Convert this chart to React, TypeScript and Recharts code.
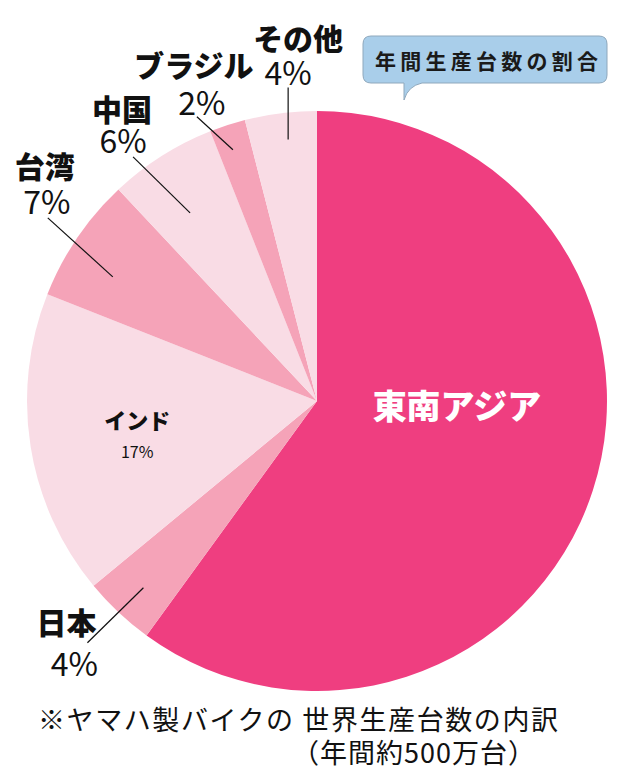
import React from "react";
import { PieChart, Pie, Cell } from "recharts";

const regions = ["東南アジア", "日本", "インド", "台湾", "中国", "ブラジル", "その他"];
const shares = [60, 4, 17, 7, 6, 2, 4];
const percentLabels = ["60%", "4%", "17%", "7%", "6%", "2%", "4%"];
const sliceColors = ["#EF3E80", "#F5A3B8", "#F9DCE5", "#F5A3B8", "#F9DCE5", "#F5A3B8", "#F9DCE5"];

const data = regions.map((name, i) => ({ name, value: shares[i], pct: percentLabels[i] }));

const JP = "'Noto Sans CJK JP', 'Noto Sans', sans-serif";
const NUM = "'Liberation Sans Narrow', 'Noto Sans CJK JP', sans-serif";
const RAD = Math.PI / 180;

type Layout = {
  kind: "outside" | "inside" | "main";
  da: number;
  r: number;
  ex?: number;
  ey?: number;
  nx: number;
  ny: number;
  px?: number;
  py?: number;
};
const labelLayout: Layout[] = [
  { kind: "main", da: 16.4, r: 140, nx: 0, ny: 0 },
  { kind: "outside", da: 0.3, r: 255, ex: -56, ey: 55, nx: -21, ny: -22, px: -13, py: 19 },
  { kind: "inside", da: 0, r: 182, nx: 0, ny: -10, px: 0, py: 22 },
  { kind: "outside", da: 2.9, r: 239, ex: -65, ey: -59, nx: -3, ny: -53, px: -1, py: -18 },
  { kind: "outside", da: 1.6, r: 227, ex: -57, ey: -56, nx: -11, ny: -49, px: -10, py: -18 },
  { kind: "outside", da: 0.5, r: 265, ex: -36, ey: -33, nx: -3, ny: -53, px: 5, py: -16 },
  { kind: "outside", da: -0.9, r: 263, ex: 0, ey: -52, nx: 10, ny: -51, px: 0, py: -17 },
];

const renderLabel = (props: any) => {
  const { cx, cy, midAngle, index } = props;
  const L = labelLayout[index];
  const d = data[index];
  const a = (midAngle + L.da) * RAD;
  const sx = cx + L.r * Math.cos(a);
  const sy = cy - L.r * Math.sin(a);
  if (L.kind === "main") {
    return (
      <text x={sx + L.nx} y={sy + L.ny} textAnchor="middle" dominantBaseline="central"
        fill="#fff" fontFamily={JP} fontWeight={900} fontSize={34}>
        {d.name}
      </text>
    );
  }
  if (L.kind === "inside") {
    return (
      <g>
        <text x={sx + L.nx} y={sy + L.ny} textAnchor="middle" dominantBaseline="central"
          fill="#111" fontFamily={JP} fontWeight={900} fontSize={22}>
          {d.name}
        </text>
        <text x={sx + (L.px || 0)} y={sy + (L.py || 0)} textAnchor="middle" dominantBaseline="central"
          fill="#111" fontFamily={JP} fontWeight={400} fontSize={16}>
          {d.pct}
        </text>
      </g>
    );
  }
  const ex = sx + (L.ex || 0);
  const ey = sy + (L.ey || 0);
  return (
    <g>
      <line x1={sx} y1={sy} x2={ex} y2={ey} stroke="#111" strokeWidth={1.2} />
      <text x={ex + L.nx} y={ey + L.ny} textAnchor="middle" dominantBaseline="central"
        fill="#111" fontFamily={JP} fontWeight={900} fontSize={30}>
        {d.name}
      </text>
      <text x={ex + (L.px || 0)} y={ey + (L.py || 0)} textAnchor="middle" dominantBaseline="central"
        fill="#111" fontFamily={NUM} fontWeight={400} fontSize={32}>
        {d.pct}
      </text>
    </g>
  );
};

export default function App() {
  return (
    <div style={{ position: "absolute", left: 0, top: 0, width: 633, height: 768, background: "#fff" }}>
      <PieChart width={633} height={768} margin={{ top: 0, right: 0, bottom: 0, left: 0 }}>
        <Pie
          data={data}
          dataKey="value"
          nameKey="name"
          cx={317}
          cy={401}
          outerRadius={290}
          startAngle={90}
          endAngle={-270}
          stroke="none"
          isAnimationActive={false}
          label={renderLabel}
          labelLine={false}
        >
          {data.map((d, i) => (
            <Cell key={d.name} fill={sliceColors[i]} />
          ))}
        </Pie>
      </PieChart>
      <svg width={633} height={768} style={{ position: "absolute", left: 0, top: 0, pointerEvents: "none" }}>
        <path
          d="M371,36 H599 Q607,36 607,44 V75 Q607,83 599,83 H422 Q408,86 404,100 V83 H371 Q363,83 363,75 V44 Q363,36 371,36 Z"
          fill="#A9CEEA"
          stroke="#8FA8BC"
          strokeWidth={1}
        />
        <text x={375} y={60} dominantBaseline="central" fill="#1a1a1a"
          fontFamily={JP} fontWeight={700} fontSize={21} textLength={223} lengthAdjust="spacing">
          年間生産台数の割合
        </text>
        <text x={38} y={718} dominantBaseline="central" fill="#111" fontFamily={JP} fontWeight={400} fontSize={27}
          textLength={520} lengthAdjust="spacing">
          ※ヤマハ製バイクの 世界生産台数の内訳
        </text>
        <text x={292} y={751} dominantBaseline="central" fill="#111" fontFamily={JP} fontWeight={400} fontSize={27}
          textLength={243} lengthAdjust="spacing">
          （年間約500万台）
        </text>
      </svg>
    </div>
  );
}
